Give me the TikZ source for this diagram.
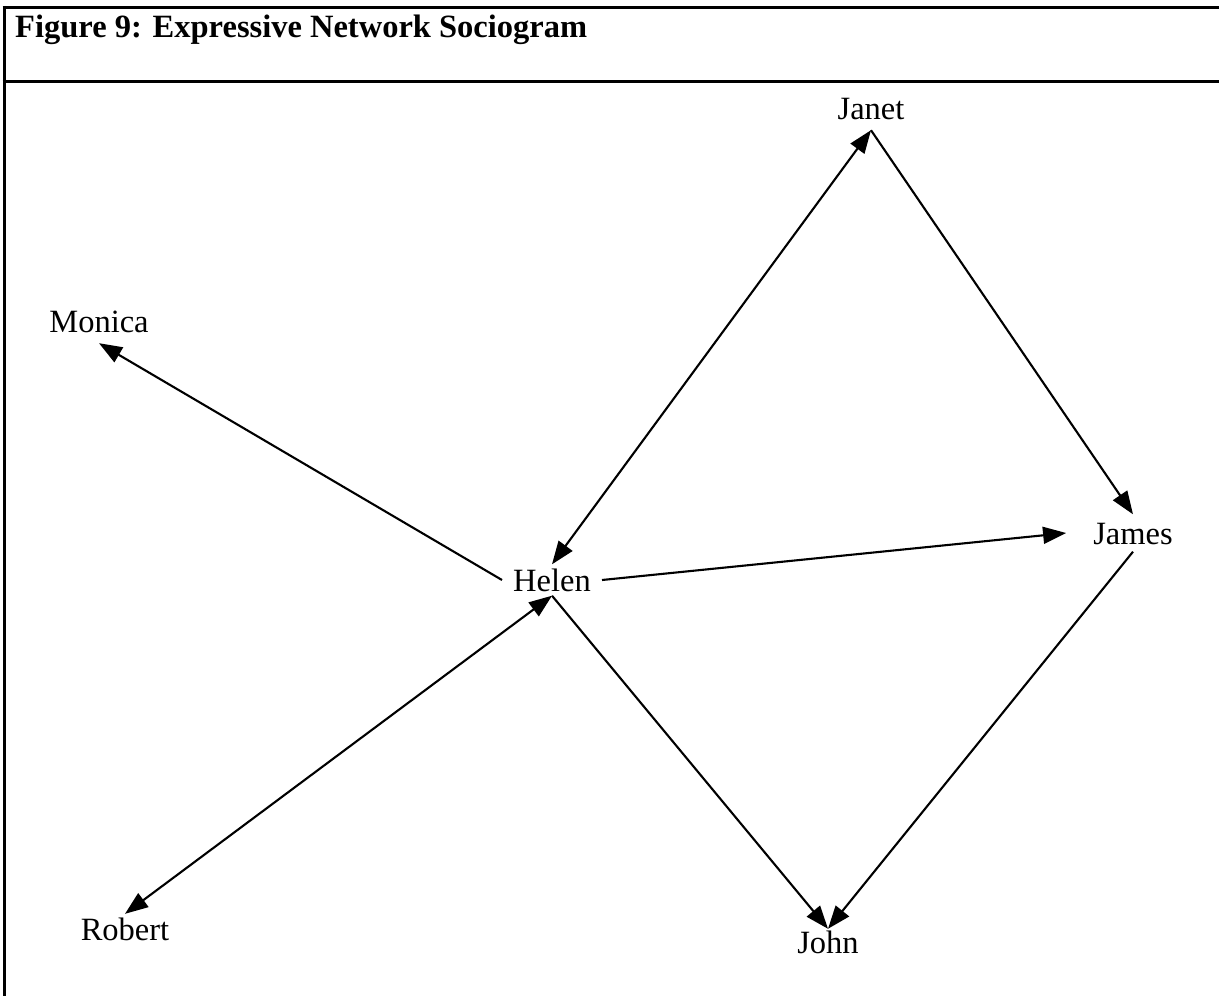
\documentclass[tikz,border=0pt]{standalone}
\usepackage{fontspec}
\setmainfont{Liberation Serif}
\usetikzlibrary{arrows.meta}
\tikzset{
  lbl/.style={font=\fontsize{32.5}{38}\selectfont, text height=22pt, text depth=0pt, anchor=base, inner sep=0pt},
  arr/.style={line width=2.1pt, -{Triangle[length=23pt,width=17pt]}},
  biarr/.style={line width=2.1pt, {Triangle[length=23pt,width=17pt]}-{Triangle[length=23pt,width=17pt]}},
  frame/.style={line width=3pt}
}
\begin{document}
\begin{tikzpicture}[x=1pt,y=-1pt]
\useasboundingbox (0,0) rectangle (1219,996);
% frame
\draw[frame] (2.5,7.3) -- (1219,7.3);
\draw[frame] (2.5,81.7) -- (1219,81.7);
\draw[frame] (4,5.8) -- (4,996);
\node[anchor=base west, inner sep=0pt, font=\fontsize{32.5}{38}\selectfont\bfseries] (title) at (15,37) {Figure 9: Expressive Network Sociogram};
% nodes
\node[lbl, inner xsep=11pt, inner ysep=4.5pt] (helen) at (552,591) {Helen};
\node[lbl, inner xsep=4pt, inner ysep=11pt] (janet) at (871,119) {Janet};
\node[lbl, inner xsep=4pt, inner ysep=11pt] (monica) at (99,332) {Monica};
\node[lbl, inner xsep=27pt, inner ysep=7.5pt] (james) at (1133,544) {James};
\node[lbl, inner xsep=4pt, inner ysep=2pt] (john) at (828,953) {John};
\node[lbl, inner xsep=4pt, inner ysep=4pt] (robert) at (125,940) {Robert};
% connectors
\draw[biarr] (helen.north) -- (janet.south);
\draw[arr] (janet.south) -- (james.north);
\draw[arr] (helen.east) -- (james.west);
\draw[arr] (helen.west) -- (monica.south);
\draw[biarr] (helen.south) -- (robert.north);
\draw[arr] (helen.south) -- (john.north);
\draw[arr] (james.south) -- (john.north);
\end{tikzpicture}
\end{document}
